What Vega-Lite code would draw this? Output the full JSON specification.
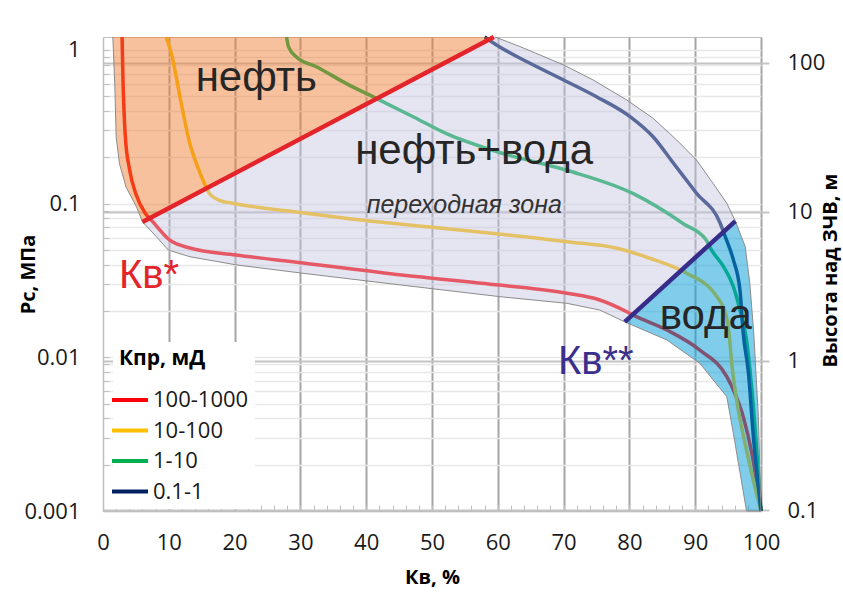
{
  "$schema": "https://vega.github.io/schema/vega-lite/v6.json",
  "width": 658,
  "height": 474,
  "autosize": {"type": "none"},
  "padding": {"left": 103, "top": 37, "right": 82, "bottom": 95},
  "background": "white",
  "config": {
    "view": {"stroke": "#bfbfbf", "strokeWidth": 1},
    "axis": {
      "labelFont": "Open Sans",
      "titleFont": "Open Sans",
      "labelFontSize": 22,
      "titleFontSize": 20,
      "labelColor": "#1a1a1a",
      "titleColor": "#000000",
      "titleFontWeight": "bold",
      "labelOverlap": false,
      "labelFlush": false,
      "labelBound": false
    }
  },
  "datasets": {
    "curves": [
      {"kpr": "100-1000", "kv": 2.9, "pc": 1.213},
      {"kpr": "100-1000", "kv": 3.0, "pc": 0.75},
      {"kpr": "100-1000", "kv": 3.4, "pc": 0.271},
      {"kpr": "100-1000", "kv": 4.05, "pc": 0.1655},
      {"kpr": "100-1000", "kv": 5.0, "pc": 0.1154},
      {"kpr": "100-1000", "kv": 6.5, "pc": 0.0856},
      {"kpr": "100-1000", "kv": 7.6, "pc": 0.0759},
      {"kpr": "100-1000", "kv": 10.1, "pc": 0.058},
      {"kpr": "100-1000", "kv": 13.2, "pc": 0.0514},
      {"kpr": "100-1000", "kv": 20.2, "pc": 0.0463},
      {"kpr": "100-1000", "kv": 30.4, "pc": 0.0411},
      {"kpr": "100-1000", "kv": 45.4, "pc": 0.0343},
      {"kpr": "100-1000", "kv": 60.3, "pc": 0.0295},
      {"kpr": "100-1000", "kv": 70.5, "pc": 0.0261},
      {"kpr": "100-1000", "kv": 75.5, "pc": 0.0236},
      {"kpr": "100-1000", "kv": 79.6, "pc": 0.0198},
      {"kpr": "100-1000", "kv": 80.6, "pc": 0.0188},
      {"kpr": "100-1000", "kv": 85.7, "pc": 0.01506},
      {"kpr": "100-1000", "kv": 90.7, "pc": 0.01115},
      {"kpr": "100-1000", "kv": 94.8, "pc": 0.00748},
      {"kpr": "100-1000", "kv": 96.0, "pc": 0.00586},
      {"kpr": "100-1000", "kv": 97.3, "pc": 0.00411},
      {"kpr": "100-1000", "kv": 98.6, "pc": 0.00238},
      {"kpr": "100-1000", "kv": 100, "pc": 0.001},
      {"kpr": "10-100", "kv": 9.6, "pc": 1.213},
      {"kpr": "10-100", "kv": 10.4, "pc": 0.944},
      {"kpr": "10-100", "kv": 11.9, "pc": 0.447},
      {"kpr": "10-100", "kv": 13.2, "pc": 0.245},
      {"kpr": "10-100", "kv": 14.2, "pc": 0.182},
      {"kpr": "10-100", "kv": 15.2, "pc": 0.1418},
      {"kpr": "10-100", "kv": 16.2, "pc": 0.116},
      {"kpr": "10-100", "kv": 17.7, "pc": 0.105},
      {"kpr": "10-100", "kv": 19.5, "pc": 0.1009},
      {"kpr": "10-100", "kv": 29.4, "pc": 0.0882},
      {"kpr": "10-100", "kv": 39.6, "pc": 0.0779},
      {"kpr": "10-100", "kv": 49.7, "pc": 0.0704},
      {"kpr": "10-100", "kv": 59.8, "pc": 0.0637},
      {"kpr": "10-100", "kv": 70.5, "pc": 0.0565},
      {"kpr": "10-100", "kv": 78.1, "pc": 0.0512},
      {"kpr": "10-100", "kv": 83.1, "pc": 0.0441},
      {"kpr": "10-100", "kv": 88.2, "pc": 0.0361},
      {"kpr": "10-100", "kv": 93.3, "pc": 0.0248},
      {"kpr": "10-100", "kv": 94.8, "pc": 0.018},
      {"kpr": "10-100", "kv": 95.2, "pc": 0.0135},
      {"kpr": "10-100", "kv": 95.5, "pc": 0.0096},
      {"kpr": "10-100", "kv": 96.3, "pc": 0.00527},
      {"kpr": "10-100", "kv": 97.8, "pc": 0.00249},
      {"kpr": "10-100", "kv": 99.3, "pc": 0.00131},
      {"kpr": "10-100", "kv": 100, "pc": 0.001},
      {"kpr": "1-10", "kv": 27.9, "pc": 1.213},
      {"kpr": "1-10", "kv": 28.2, "pc": 1.045},
      {"kpr": "1-10", "kv": 29.4, "pc": 0.899},
      {"kpr": "1-10", "kv": 32.5, "pc": 0.774},
      {"kpr": "1-10", "kv": 37.0, "pc": 0.603},
      {"kpr": "1-10", "kv": 41.6, "pc": 0.482},
      {"kpr": "1-10", "kv": 47.2, "pc": 0.366},
      {"kpr": "1-10", "kv": 52.2, "pc": 0.285},
      {"kpr": "1-10", "kv": 60.0, "pc": 0.2167},
      {"kpr": "1-10", "kv": 70.5, "pc": 0.1647},
      {"kpr": "1-10", "kv": 80.6, "pc": 0.116},
      {"kpr": "1-10", "kv": 88.2, "pc": 0.074},
      {"kpr": "1-10", "kv": 91.7, "pc": 0.0577},
      {"kpr": "1-10", "kv": 92.4, "pc": 0.0505},
      {"kpr": "1-10", "kv": 94.3, "pc": 0.0389},
      {"kpr": "1-10", "kv": 95.8, "pc": 0.0288},
      {"kpr": "1-10", "kv": 96.8, "pc": 0.0203},
      {"kpr": "1-10", "kv": 97.8, "pc": 0.01296},
      {"kpr": "1-10", "kv": 98.8, "pc": 0.005},
      {"kpr": "1-10", "kv": 100, "pc": 0.001},
      {"kpr": "0.1-1", "kv": 58.0, "pc": 1.213},
      {"kpr": "0.1-1", "kv": 59.8, "pc": 1.076},
      {"kpr": "0.1-1", "kv": 64.9, "pc": 0.818},
      {"kpr": "0.1-1", "kv": 70.0, "pc": 0.637},
      {"kpr": "0.1-1", "kv": 75.0, "pc": 0.496},
      {"kpr": "0.1-1", "kv": 80.1, "pc": 0.368},
      {"kpr": "0.1-1", "kv": 83.6, "pc": 0.272},
      {"kpr": "0.1-1", "kv": 86.7, "pc": 0.183},
      {"kpr": "0.1-1", "kv": 90.2, "pc": 0.1167},
      {"kpr": "0.1-1", "kv": 93.8, "pc": 0.0745},
      {"kpr": "0.1-1", "kv": 94.5, "pc": 0.062},
      {"kpr": "0.1-1", "kv": 95.8, "pc": 0.043},
      {"kpr": "0.1-1", "kv": 96.8, "pc": 0.0274},
      {"kpr": "0.1-1", "kv": 97.3, "pc": 0.0143},
      {"kpr": "0.1-1", "kv": 98.1, "pc": 0.00787},
      {"kpr": "0.1-1", "kv": 98.8, "pc": 0.0032},
      {"kpr": "0.1-1", "kv": 100, "pc": 0.001}
    ],
    "zones": [
      {"zone": "oil", "i": 0, "kv": 1.5, "pc": 1.213},
      {"zone": "oil", "i": 1, "kv": 1.8, "pc": 0.574},
      {"zone": "oil", "i": 2, "kv": 2.0, "pc": 0.271},
      {"zone": "oil", "i": 3, "kv": 2.5, "pc": 0.182},
      {"zone": "oil", "i": 4, "kv": 3.5, "pc": 0.1282},
      {"zone": "oil", "i": 5, "kv": 5.1, "pc": 0.095},
      {"zone": "oil", "i": 6, "kv": 6.0, "pc": 0.076},
      {"zone": "oil", "i": 7, "kv": 59.4, "pc": 1.213},
      {"zone": "mix", "i": 0, "kv": 6.0, "pc": 0.076},
      {"zone": "mix", "i": 1, "kv": 8.1, "pc": 0.061},
      {"zone": "mix", "i": 2, "kv": 9.9, "pc": 0.0499},
      {"zone": "mix", "i": 3, "kv": 13.2, "pc": 0.0451},
      {"zone": "mix", "i": 4, "kv": 20.3, "pc": 0.0399},
      {"zone": "mix", "i": 5, "kv": 30.4, "pc": 0.0352},
      {"zone": "mix", "i": 6, "kv": 45.4, "pc": 0.0295},
      {"zone": "mix", "i": 7, "kv": 60.3, "pc": 0.0248},
      {"zone": "mix", "i": 8, "kv": 70.5, "pc": 0.02245},
      {"zone": "mix", "i": 9, "kv": 75.5, "pc": 0.0203},
      {"zone": "mix", "i": 10, "kv": 79.3, "pc": 0.017},
      {"zone": "mix", "i": 11, "kv": 96.1, "pc": 0.077},
      {"zone": "mix", "i": 12, "kv": 94.8, "pc": 0.1005},
      {"zone": "mix", "i": 13, "kv": 92.7, "pc": 0.1355},
      {"zone": "mix", "i": 14, "kv": 90.2, "pc": 0.192},
      {"zone": "mix", "i": 15, "kv": 87.2, "pc": 0.259},
      {"zone": "mix", "i": 16, "kv": 83.6, "pc": 0.359},
      {"zone": "mix", "i": 17, "kv": 79.6, "pc": 0.472},
      {"zone": "mix", "i": 18, "kv": 74.5, "pc": 0.637},
      {"zone": "mix", "i": 19, "kv": 70.0, "pc": 0.798},
      {"zone": "mix", "i": 20, "kv": 63.4, "pc": 1.05},
      {"zone": "mix", "i": 21, "kv": 59.6, "pc": 1.213},
      {"zone": "mix", "i": 22, "kv": 59.4, "pc": 1.213},
      {"zone": "water", "i": 0, "kv": 79.3, "pc": 0.017},
      {"zone": "water", "i": 1, "kv": 85.7, "pc": 0.01296},
      {"zone": "water", "i": 2, "kv": 90.7, "pc": 0.00914},
      {"zone": "water", "i": 3, "kv": 94.8, "pc": 0.00554},
      {"zone": "water", "i": 4, "kv": 95.8, "pc": 0.0032},
      {"zone": "water", "i": 5, "kv": 97.8, "pc": 0.001},
      {"zone": "water", "i": 6, "kv": 100, "pc": 0.001},
      {"zone": "water", "i": 7, "kv": 99.6, "pc": 0.00411},
      {"zone": "water", "i": 8, "kv": 98.9, "pc": 0.01439},
      {"zone": "water", "i": 9, "kv": 98.3, "pc": 0.0303},
      {"zone": "water", "i": 10, "kv": 97.6, "pc": 0.0525},
      {"zone": "water", "i": 11, "kv": 96.1, "pc": 0.077}
    ],
    "edge": [
      {"i": 0, "kv": 1.5, "pc": 1.213},
      {"i": 1, "kv": 1.8, "pc": 0.574},
      {"i": 2, "kv": 2.0, "pc": 0.271},
      {"i": 3, "kv": 2.5, "pc": 0.182},
      {"i": 4, "kv": 3.5, "pc": 0.1282},
      {"i": 5, "kv": 5.1, "pc": 0.095},
      {"i": 6, "kv": 6.0, "pc": 0.076},
      {"i": 7, "kv": 8.1, "pc": 0.061},
      {"i": 8, "kv": 9.9, "pc": 0.0499},
      {"i": 9, "kv": 13.2, "pc": 0.0451},
      {"i": 10, "kv": 20.3, "pc": 0.0399},
      {"i": 11, "kv": 30.4, "pc": 0.0352},
      {"i": 12, "kv": 45.4, "pc": 0.0295},
      {"i": 13, "kv": 60.3, "pc": 0.0248},
      {"i": 14, "kv": 70.5, "pc": 0.02245},
      {"i": 15, "kv": 75.5, "pc": 0.0203},
      {"i": 16, "kv": 79.3, "pc": 0.017},
      {"i": 17, "kv": 85.7, "pc": 0.01296},
      {"i": 18, "kv": 90.7, "pc": 0.00914},
      {"i": 19, "kv": 94.8, "pc": 0.00554},
      {"i": 20, "kv": 95.8, "pc": 0.0032},
      {"i": 21, "kv": 97.8, "pc": 0.001},
      {"i": 22, "kv": 100, "pc": 0.001},
      {"i": 23, "kv": 99.6, "pc": 0.00411},
      {"i": 24, "kv": 98.9, "pc": 0.01439},
      {"i": 25, "kv": 98.3, "pc": 0.0303},
      {"i": 26, "kv": 97.6, "pc": 0.0525},
      {"i": 27, "kv": 96.1, "pc": 0.077},
      {"i": 28, "kv": 94.8, "pc": 0.1005},
      {"i": 29, "kv": 92.7, "pc": 0.1355},
      {"i": 30, "kv": 90.2, "pc": 0.192},
      {"i": 31, "kv": 87.2, "pc": 0.259},
      {"i": 32, "kv": 83.6, "pc": 0.359},
      {"i": 33, "kv": 79.6, "pc": 0.472},
      {"i": 34, "kv": 74.5, "pc": 0.637},
      {"i": 35, "kv": 70.0, "pc": 0.798},
      {"i": 36, "kv": 63.4, "pc": 1.05},
      {"i": 37, "kv": 59.6, "pc": 1.213}
    ],
    "bounds": [
      {"b": "kv1", "kv": 6.0, "pc": 0.076},
      {"b": "kv1", "kv": 59.4, "pc": 1.213},
      {"b": "kv2", "kv": 79.3, "pc": 0.017},
      {"b": "kv2", "kv": 96.1, "pc": 0.077}
    ],
    "labels": [
      {"t": "нефть", "kv": 23.3, "pc": 0.54},
      {"t": "нефть+вода", "kv": 56.4, "pc": 0.181},
      {"t": "вода", "kv": 91.6, "pc": 0.01528},
      {"t": "переходная зона", "kv": 54.9, "pc": 0.0869},
      {"t": "Кв*", "kv": 7.0, "pc": 0.0282},
      {"t": "Кв**", "kv": 74.9, "pc": 0.00778}
    ]
  },
  "layer": [
    {
      "encoding": {
        "x": {
          "field": "kv",
          "type": "quantitative",
          "scale": {"domain": [0, 100], "nice": false, "zero": false},
          "axis": {
            "title": "Кв, %",
            "values": [0, 2, 4, 6, 8, 10, 12, 14, 16, 18, 20, 22, 24, 26, 28, 30, 32, 34, 36, 38, 40, 42, 44, 46, 48, 50, 52, 54, 56, 58, 60, 62, 64, 66, 68, 70, 72, 74, 76, 78, 80, 82, 84, 86, 88, 90, 92, 94, 96, 98, 100],
            "labelExpr": "datum.value % 10 === 0 ? datum.label : ''",
            "grid": true,
            "gridColor": "#a5a5a5",
            "gridWidth": 2,
            "gridOpacity": {"condition": {"test": "datum.value % 10 === 0 && datum.value > 0", "value": 1}, "value": 0},
            "domainColor": "#bfbfbf",
            "domainWidth": 1.5,
            "tickColor": "#bfbfbf",
            "tickSize": -6,
            "tickWidth": 1,
            "labelPadding": 27,
            "titleX": 329,
            "titleY": 66,
            "titleAlign": "center",
            "titleBaseline": "middle"
          }
        },
        "y": {
          "field": "pc",
          "type": "quantitative",
          "scale": {"type": "log", "domain": [0.001, 1.213], "nice": false},
          "axis": {
            "orient": "left",
            "title": "Рс, МПа",
            "format": "~g",
            "values": [0.001, 0.002, 0.003, 0.004, 0.005, 0.006, 0.007, 0.008, 0.009, 0.01, 0.02, 0.03, 0.04, 0.05, 0.06, 0.07, 0.08, 0.09, 0.1, 0.2, 0.3, 0.4, 0.5, 0.6, 0.7, 0.8, 0.9, 1],
            "labelExpr": "(datum.value === 0.001 || datum.value === 0.01 || datum.value === 0.1 || datum.value === 1) ? datum.label : ''",
            "grid": true,
            "gridColor": "#e8e8e8",
            "gridWidth": 1.5,
            "domainColor": "#bfbfbf",
            "domainWidth": 1.5,
            "tickColor": "#bfbfbf",
            "tickSize": -6,
            "tickWidth": 1,
            "labelPadding": 29,
            "titleX": -75,
            "titleY": 237,
            "titleAngle": 270,
            "titleAlign": "center",
            "titleBaseline": "middle"
          }
        }
      },
      "layer": [
        {
          "data": {"name": "curves"},
          "mark": {"type": "line", "strokeWidth": 3.5, "interpolate": "monotone"},
          "encoding": {
            "color": {
              "field": "kpr",
              "type": "nominal",
              "scale": {"domain": ["100-1000", "10-100", "1-10", "0.1-1"], "range": ["#ff0000", "#ffc000", "#00b050", "#002060"]},
              "legend": {
                "orient": "none",
                "legendX": 10,
                "legendY": 305,
                "title": "Кпр, мД",
                "titleFont": "Open Sans",
                "titleFontSize": 21,
                "titleFontWeight": "bold",
                "titleColor": "#000000",
                "titlePadding": 20,
                "labelFont": "Open Sans",
                "labelFontSize": 22,
                "labelColor": "#1a1a1a",
                "symbolType": "M-2,0H2",
                "symbolSize": 324,
                "symbolStrokeWidth": 4,
                "labelOffset": 12,
                "rowPadding": 8.5,
                "padding": 6,
                "fillColor": "white"
              }
            }
          }
        },
        {
          "data": {"name": "zones"},
          "transform": [{"filter": "datum.zone === 'mix'"}],
          "mark": {"type": "line", "filled": true, "color": "#c5c3e0", "fillOpacity": 0.45, "interpolate": "linear"},
          "encoding": {"order": {"field": "i", "type": "quantitative"}}
        },
        {
          "data": {"name": "zones"},
          "transform": [{"filter": "datum.zone === 'oil'"}],
          "mark": {"type": "line", "filled": true, "color": "#ed7d31", "fillOpacity": 0.48, "interpolate": "linear"},
          "encoding": {"order": {"field": "i", "type": "quantitative"}}
        },
        {
          "data": {"name": "zones"},
          "transform": [{"filter": "datum.zone === 'water'"}],
          "mark": {"type": "line", "filled": true, "color": "#0a9fd8", "fillOpacity": 0.52, "interpolate": "linear"},
          "encoding": {"order": {"field": "i", "type": "quantitative"}}
        },
        {
          "data": {"name": "edge"},
          "mark": {"type": "line", "color": "#8c8c8c", "strokeWidth": 1, "interpolate": "linear"},
          "encoding": {"order": {"field": "i", "type": "quantitative"}}
        },
        {
          "data": {"name": "bounds"},
          "transform": [{"filter": "datum.b === 'kv1'"}],
          "mark": {"type": "line", "color": "#e3242b", "strokeWidth": 4.5},
          "encoding": {}
        },
        {
          "data": {"name": "bounds"},
          "transform": [{"filter": "datum.b === 'kv2'"}],
          "mark": {"type": "line", "color": "#362c8a", "strokeWidth": 4.5},
          "encoding": {}
        },
        {
          "data": {"name": "labels"},
          "transform": [{"filter": "indexof(['нефть', 'нефть+вода', 'вода'], datum.t) >= 0"}],
          "mark": {"type": "text", "font": "Liberation Sans", "fontSize": 42, "color": "#262626", "align": "center", "baseline": "alphabetic"},
          "encoding": {"text": {"field": "t"}}
        },
        {
          "data": {"name": "labels"},
          "transform": [{"filter": "datum.t === 'переходная зона'"}],
          "mark": {"type": "text", "font": "Liberation Sans", "fontSize": 25, "fontStyle": "italic", "color": "#333333", "align": "center", "baseline": "alphabetic"},
          "encoding": {"text": {"field": "t"}}
        },
        {
          "data": {"name": "labels"},
          "transform": [{"filter": "datum.t === 'Кв*'"}],
          "mark": {"type": "text", "font": "Liberation Sans", "fontSize": 40, "color": "#e3242b", "align": "center", "baseline": "alphabetic"},
          "encoding": {"text": {"field": "t"}}
        },
        {
          "data": {"name": "labels"},
          "transform": [{"filter": "datum.t === 'Кв**'"}],
          "mark": {"type": "text", "font": "Liberation Sans", "fontSize": 40, "color": "#3a2f8c", "align": "center", "baseline": "alphabetic"},
          "encoding": {"text": {"field": "t"}}
        }
      ]
    },
    {
      "data": {"values": [{"h": 0.1}, {"h": 100}]},
      "mark": {"type": "point", "opacity": 0},
      "encoding": {
        "y": {
          "field": "h",
          "type": "quantitative",
          "scale": {"type": "log", "domain": [0.0985, 149], "nice": false},
          "axis": {
            "orient": "right",
            "title": "Высота над ЗЧВ, м",
            "format": "~g",
            "values": [0.1, 1, 10, 100],
            "grid": true,
            "gridColor": "#c4c4c4",
            "gridWidth": 2,
            "domain": false,
            "tickColor": "#c4c4c4",
            "tickWidth": 2,
            "tickSize": 8,
            "labelPadding": 18,
            "titleX": 69,
            "titleY": 233,
            "titleAngle": 270,
            "titleAlign": "center",
            "titleBaseline": "middle"
          }
        }
      }
    }
  ],
  "resolve": {"scale": {"y": "independent"}}
}
